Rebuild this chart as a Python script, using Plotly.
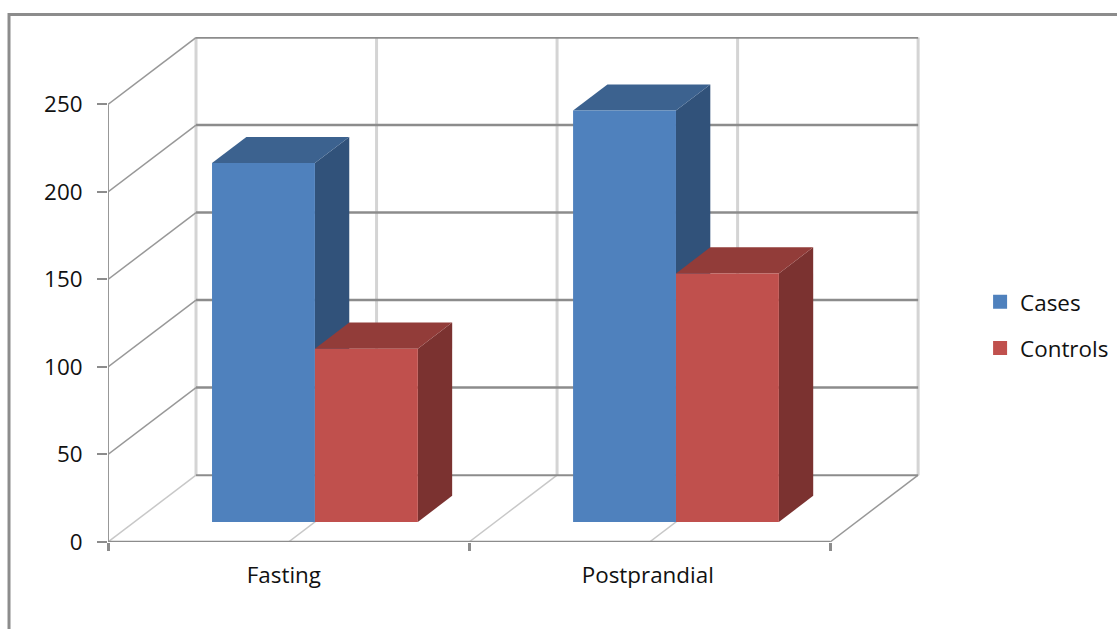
import plotly.graph_objects as go

# Chart data
categories = ["Fasting", "Postprandial"]
cases = [205, 235]
controls = [99, 142]
value_ticks = [0, 50, 100, 150, 200, 250]
series_names = ["Cases", "Controls"]

# Oblique projection: depth 0 is the front of the box, depth 1 the back wall
DEPTH_X = 0.2438        # category units per full depth
DEPTH_V = 38.2          # value units per full depth
BAR_DEPTH_FRONT = 0.30
BAR_DEPTH_BACK = 0.69
BAR_WIDTH = 0.285

AXIS_GREY = "#8c8c8c"
WALL_GREY = "#989898"
GRID_LIGHT = "#d4d4d4"
FONT = "Open Sans"
FONT_SIZE = 22.4

BLUE = {"front": "#4f81bd", "side": "#31527a", "top": "#3c628f"}
RED = {"front": "#c0504d", "side": "#7b3230", "top": "#923c39"}


def project(x, v, depth):
    return x + depth * DEPTH_X, v + depth * DEPTH_V


fig = go.Figure()


def add_line(points, color, width):
    xs, ys = zip(*[project(*p) for p in points])
    fig.add_trace(go.Scatter(x=xs, y=ys, mode="lines", cliponaxis=False,
                             line=dict(color=color, width=width),
                             hoverinfo="skip", showlegend=False))


def add_face(points, color):
    xs, ys = zip(*[project(*p) for p in points])
    fig.add_trace(go.Scatter(x=list(xs) + [xs[0]], y=list(ys) + [ys[0]],
                             mode="lines", fill="toself", fillcolor=color,
                             line=dict(width=0), cliponaxis=False,
                             hoverinfo="skip", showlegend=False))


def add_bar(left, value, palette):
    right = left + BAR_WIDTH
    d0, d1 = BAR_DEPTH_FRONT, BAR_DEPTH_BACK
    add_face([(right, 0, d0), (right, 0, d1), (right, value, d1), (right, value, d0)], palette["side"])
    add_face([(left, value, d0), (right, value, d0), (right, value, d1), (left, value, d1)], palette["top"])
    add_face([(left, 0, d0), (right, 0, d0), (right, value, d0), (left, value, d0)], palette["front"])


# Walls and floor of the box
n_cat = len(categories)
half_steps = [i / 2 for i in range(2 * n_cat + 1)]
top_value = value_ticks[-1]

for x in half_steps:
    add_line([(x, 0, 1), (x, top_value, 1)], GRID_LIGHT, 3)
    add_line([(x, 0, 0), (x, 0, 1)], WALL_GREY if x == n_cat else "#c8c8c8", 1.5)

for v in value_ticks:
    add_line([(0, v, 1), (n_cat, v, 1)], AXIS_GREY, 2.5 if v else 2)
    if v:
        add_line([(0, v, 0), (0, v, 1)], WALL_GREY, 1.5)

# Front axis lines, stopping at the last tick
add_line([(0, 0, 0), (0, top_value, 0)], WALL_GREY, 2)
add_line([(0, 0, 0), (n_cat, 0, 0)], AXIS_GREY, 2.5)

# Bars, drawn left to right so nearer faces overlap correctly
for i in range(n_cat):
    add_bar(i + 0.5 - BAR_WIDTH, cases[i], BLUE)
    add_bar(i + 0.5, controls[i], RED)

# Legend keys
for name, palette in zip(series_names, (BLUE, RED)):
    fig.add_trace(go.Scatter(x=[None], y=[None], mode="markers", name=name,
                             legendgroup=name,
                             marker=dict(symbol="square", size=14, color=palette["front"])))

fig.update_layout(
    width=1117, height=629,
    margin=dict(l=108, r=197, t=37, b=86.5, autoexpand=False),
    paper_bgcolor="white", plot_bgcolor="white",
    font=dict(family=FONT, size=FONT_SIZE, color="#111111"),
    hovermode=False,
    xaxis=dict(
        range=[0, 2.249], showgrid=False, zeroline=False, showline=False,
        tickmode="array", tickvals=[0.487, 1.495], ticktext=categories,
        ticks="", ticklabelstandoff=18,
        minor=dict(tick0=0, dtick=1, ticks="outside", ticklen=8, tickwidth=2.5, tickcolor=AXIS_GREY),
    ),
    yaxis=dict(
        range=[0, 288.5], showgrid=False, zeroline=False, showline=False,
        tickmode="array", tickvals=value_ticks,
        ticks="outside", ticklen=10, tickwidth=2, tickcolor=AXIS_GREY,
        ticklabelstandoff=10,
    ),
    legend=dict(x=1.074, y=0.4293, xanchor="left", yanchor="middle",
                tracegroupgap=14, bgcolor="rgba(0,0,0,0)",
                font=dict(family=FONT, size=FONT_SIZE)),
    # Chart-area frame along the top and left edges
    shapes=[dict(type="line", xref="paper", yref="paper",
                 x0=-0.1219, x1=-0.1219, y0=1.0475, y1=-0.18,
                 line=dict(color=AXIS_GREY, width=3)),
            dict(type="line", xref="paper", yref="paper",
                 x0=-0.1219, x1=1.243, y0=1.0445, y1=1.0445,
                 line=dict(color=AXIS_GREY, width=3))],
)

fig.write_html("out.html")
